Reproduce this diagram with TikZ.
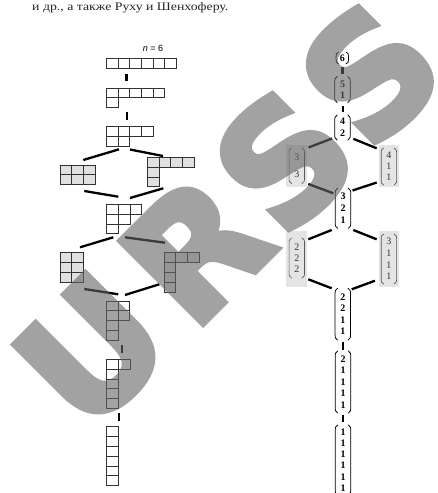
\documentclass[tikz,border=0pt]{standalone}
\usepackage{fontspec}
\setmainfont{Liberation Serif}
\newfontfamily\sansf{Liberation Sans}
\newfontfamily\headf{Liberation Serif}[FakeStretch=1.2]
\newfontface\wmfont{DejaVu Sans Bold}[FakeBold=4]
\usetikzlibrary{calc}
\definecolor{cellgray}{HTML}{E0E0E0}
\definecolor{boxgray}{HTML}{E4E4E4}
\definecolor{wmgray}{HTML}{646464}
\def\ycw{11.65}
\def\ych{9.8}
% Young diagram: #1 x, #2 y (top left), #3 row lengths, #4 cell style
\newcommand\yngd[4]{%
  \foreach \len [count=\r from 0] in {#3} {
    \foreach \c in {1,...,\len} {
      \draw[#4] ({#1+(\c-1)*\ycw},{#2+\r*\ych}) rectangle ++(\ycw,\ych);
    }
  }%
}
% parentheses around a node: #1 curve depth, #2 node name, #3 style
\newcommand\prn[3][6]{%
  \draw[#3] ($(#2.north west)+(2.6,0)$) .. controls ($(#2.north west)+(0,#1*0.35)$) .. ($(#2.north west)+(0,#1)$)
     -- ($(#2.south west)+(0,-#1)$) .. controls ($(#2.south west)+(0,-#1*0.35)$) .. ($(#2.south west)+(2.6,0)$);
  \draw[#3] ($(#2.north east)+(-2.6,0)$) .. controls ($(#2.north east)+(0,#1*0.35)$) .. ($(#2.north east)+(0,#1)$)
     -- ($(#2.south east)+(0,-#1)$) .. controls ($(#2.south east)+(0,-#1*0.35)$) .. ($(#2.south east)+(-2.6,0)$);
}
\newcommand\vfB[1]{\fontsize{10}{#1}\selectfont\bfseries}
\newcommand\vfR[1]{\fontsize{10}{#1}\selectfont\color{black!80}}
\begin{document}
\begin{tikzpicture}[x=1pt,y=-1pt,
  cell/.style={draw=black!80, line width=0.8pt},
  shcell/.style={cell, fill=cellgray},
  conn/.style={line width=2.3pt, black},
  vec/.style={align=center, inner sep=0pt, minimum width=15pt},
  paren/.style={line width=0.75pt, black},
  sparen/.style={line width=0.65pt, black!65},
  wm/.style={font=\fontsize{160}{160}\selectfont\wmfont, text=wmgray, rotate=45, inner sep=0pt, anchor=center}
]
\useasboundingbox (0,0) rectangle (438,493);
\fill[white] (0,0) rectangle (438,493);

% heading text
\node[anchor=base west, inner sep=0pt, font=\headf\fontsize{11.5}{13}\selectfont, text=black!85] (head) at (32,10.7) {и др., а также Руху и Шенхоферу.};

% ---------- left: Young diagrams ----------
\node[anchor=base, inner sep=0pt, font=\sansf\fontsize{9}{10}\selectfont] (nlab) at (153,51.7) {\textit{n} = 6};
\yngd{106.3}{58.3}{6}{cell}
\yngd{106.3}{88}{5,1}{cell}
\yngd{106.3}{126.7}{4,2}{cell}
\yngd{60}{165}{3,3}{shcell}
\yngd{147.3}{157.3}{4,1,1}{shcell}
\yngd{106.7}{204.3}{3,2,1}{cell}
\yngd{60}{252.7}{2,2,2}{shcell}
\yngd{164}{252.7}{3,1,1,1}{shcell}
\yngd{106.3}{301}{2,2,1,1}{cell}
\yngd{106.7}{359.3}{2,1,1,1,1}{cell}
\yngd{106.7}{426.7}{1,1,1,1,1,1}{cell}

\coordinate (l1a) at (126.6,73.5);  \coordinate (l1b) at (126.6,81);
\coordinate (l2a) at (126.7,111.7); \coordinate (l2b) at (126.7,120);
\coordinate (l3a) at (119,149.3);   \coordinate (l3b) at (83.3,160);
\coordinate (l4a) at (130,149.5);   \coordinate (l4b) at (163,156);
\coordinate (l5a) at (84.3,191);    \coordinate (l5b) at (118.3,196.7);
\coordinate (l6a) at (163.3,188.3); \coordinate (l6b) at (130,198);
\coordinate (l7a) at (113.3,237.3); \coordinate (l7b) at (80,247.3);
\coordinate (l8a) at (125,237.3);   \coordinate (l8b) at (165,242.7);
\coordinate (l9a) at (84.3,289);    \coordinate (l9b) at (118.3,294.3);
\coordinate (l10a) at (159.3,284.3);\coordinate (l10b) at (125,295);
\coordinate (l11a) at (121.7,345);  \coordinate (l11b) at (121.7,353);
\coordinate (l12a) at (119.3,413);  \coordinate (l12b) at (119.3,420.7);
\foreach \i in {1,...,12} { \draw[conn] (l\i a) -- (l\i b); }

% ---------- right: column vectors ----------
\fill[boxgray] (286,145) rectangle (307.3,186.5);
\fill[boxgray] (378.5,145) rectangle (399.3,186.5);
\fill[boxgray] (286,230.5) rectangle (307.3,287);
\fill[boxgray] (378.5,230.5) rectangle (399.3,287);

\node[vec, font=\vfB{11}, minimum width=12pt, minimum height=11.5pt] (v6) at (342.3,58) {6};
\node[vec, font=\vfB{11}, minimum height=26pt] (v51) at (342.5,89.5) {5\\1};
\node[vec, font=\vfB{11.6}, minimum height=25pt] (v42) at (342.5,127.5) {4\\2};
\node[vec, font=\vfR{17.6}, minimum height=35.5pt] (v33) at (296.8,165.7) {3\\3};
\node[vec, font=\vfR{10.8}, minimum height=37pt] (v411) at (388.9,166.5) {4\\1\\1};
\node[vec, font=\vfB{12}, minimum height=40pt] (v321) at (343,208.3) {3\\2\\1};
\node[vec, font=\vfR{10.8}, minimum height=40pt] (v222) at (296.8,258) {2\\2\\2};
\node[vec, font=\vfR{11.7}, minimum height=50pt] (v3111) at (388.9,259) {3\\1\\1\\1};
\node[vec, font=\vfB{11.2}, minimum height=51.7pt] (v2211) at (342.8,314.2) {2\\2\\1\\1};
\node[vec, font=\vfB{11.5}, minimum height=62pt] (v21111) at (343,382) {2\\1\\1\\1\\1};
\node[vec, font=\vfB{11.3}, minimum height=70pt] (v16) at (343,460) {1\\1\\1\\1\\1\\1};
\prn[4.5]{v6}{paren}
\foreach \n in {v51,v42,v321,v2211,v21111,v16} { \prn{\n}{paren} }
\foreach \n in {v33,v411,v222,v3111} { \prn{\n}{sparen} }

\coordinate (r1a) at (342.5,66.7);  \coordinate (r1b) at (342.5,73.5);
\coordinate (r2a) at (342.7,105.5); \coordinate (r2b) at (342.7,112);
\coordinate (r3a) at (332,138.5);   \coordinate (r3b) at (308.5,147.5);
\coordinate (r4a) at (353.3,138.8); \coordinate (r4b) at (376.7,148.3);
\coordinate (r5a) at (308.3,184);   \coordinate (r5b) at (333.3,193.3);
\coordinate (r6a) at (376.7,182.5); \coordinate (r6b) at (352.5,190.5);
\coordinate (r7a) at (331.7,230);   \coordinate (r7b) at (308.3,239.3);
\coordinate (r8a) at (353.3,230);   \coordinate (r8b) at (376.7,239.3);
\coordinate (r9a) at (308.3,279.3); \coordinate (r9b) at (331.7,288.3);
\coordinate (r10a) at (375,280.7);  \coordinate (r10b) at (351.7,289.3);
\coordinate (r11a) at (342.7,341.7);\coordinate (r11b) at (342.7,350);
\coordinate (r12a) at (343.3,415);  \coordinate (r12b) at (343.3,421.7);
\foreach \i in {1,...,12} { \draw[conn] (r\i a) -- (r\i b); }

% ---------- watermark ----------
\begin{scope}[opacity=0.6, transparency group]
\node[wm] (wmU) at (92,351) {U};
\node[wm] (wmR) at (195,249) {R};
\node[wm] (wmS1) at (284,160) {S};
\node[wm] (wmS2) at (370,73) {S};
\end{scope}
\end{tikzpicture}
\end{document}
